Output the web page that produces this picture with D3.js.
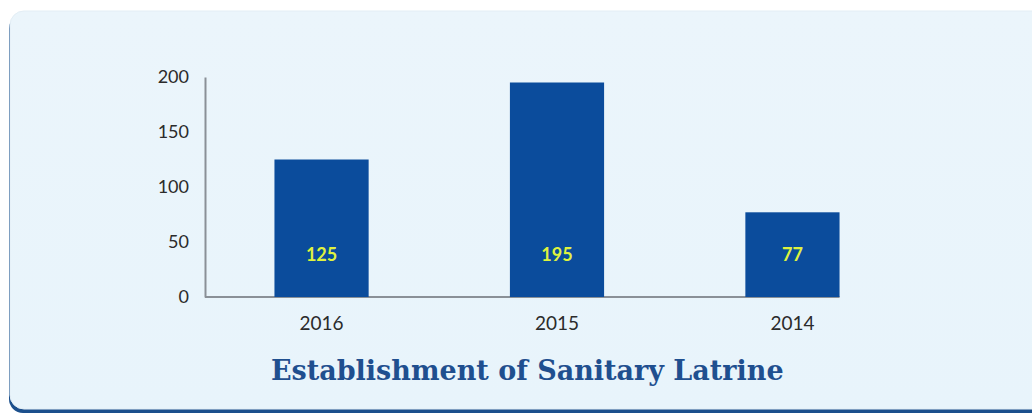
<!DOCTYPE html>
<html>
<head>
<meta charset="utf-8">
<script src="https://cdn.jsdelivr.net/npm/d3@7"></script>
<style>
  html, body { margin: 0; padding: 0; background: #ffffff; }
  svg { display: block; }
</style>
</head>
<body>
<div id="chart"></div>
<script>
// Sanitary latrines established per year
const years = ["2016", "2015", "2014"];
const latrines = [125, 195, 77];
const yTicks = [0, 50, 100, 150, 200];
const titleText = "Establishment of Sanitary Latrine";

const W = 1032, H = 416;
const svg = d3.select("#chart").append("svg")
  .attr("width", W).attr("height", H);

// Card background with a dark blue bottom edge
const defs = svg.append("defs");
const grad = defs.append("linearGradient").attr("id", "cardFill")
  .attr("x1", 0).attr("y1", 0).attr("x2", 0).attr("y2", 1);
grad.append("stop").attr("offset", "0%").attr("stop-color", "#ebf5fb");
grad.append("stop").attr("offset", "100%").attr("stop-color", "#e8f4fb");

svg.append("rect")
  .attr("x", 9).attr("y", 15).attr("width", 1040).attr("height", 398)
  .attr("rx", 14).attr("fill", "#1b4f8c");
svg.append("rect")
  .attr("x", 10).attr("y", 11).attr("width", 1040).attr("height", 398)
  .attr("rx", 14).attr("fill", "url(#cardFill)")
  .attr("stroke", "#e3eef5").attr("stroke-width", 1);

// Scales
const plot = { left: 205, right: 909, top: 77, bottom: 297 };
const x = d3.scaleBand()
  .domain(years)
  .range([plot.left, plot.right])
  .paddingInner(0.6)
  .paddingOuter(0.295);
const y = d3.scaleLinear()
  .domain([0, 200])
  .range([plot.bottom, plot.top]);

// Y axis: line and labels only
const yAxis = svg.append("g")
  .attr("transform", `translate(${plot.left},0)`)
  .call(d3.axisLeft(y).tickValues(yTicks).tickSize(0).tickPadding(16));
yAxis.select(".domain").attr("stroke", "#8a9097").attr("stroke-width", 2);
yAxis.selectAll("text")
  .attr("font-family", "Lato, 'Open Sans', sans-serif")
  .attr("font-size", 18)
  .attr("fill", "#2b2b2b");

// Baseline running under the bars
const lastBand = years[years.length - 1];
const barsEnd = x(lastBand) + x.bandwidth();
svg.append("line")
  .attr("x1", plot.left).attr("x2", barsEnd)
  .attr("y1", y(0)).attr("y2", y(0))
  .attr("stroke", "#8a9097").attr("stroke-width", 2);

// Bars
svg.append("g").selectAll("rect")
  .data(years)
  .join("rect")
  .attr("x", d => x(d))
  .attr("y", (d, i) => y(latrines[i]))
  .attr("width", x.bandwidth())
  .attr("height", (d, i) => y(0) - y(latrines[i]))
  .attr("fill", "#0b4c9c");

// Value labels near the foot of each bar
svg.append("g").selectAll("text")
  .data(years)
  .join("text")
  .attr("x", d => x(d) + x.bandwidth() / 2)
  .attr("y", y(0) - 42)
  .attr("dy", "0.35em")
  .attr("text-anchor", "middle")
  .attr("font-family", "Lato, 'Open Sans', sans-serif")
  .attr("font-weight", "bold")
  .attr("font-size", 18)
  .attr("fill", "#dff23f")
  .text((d, i) => latrines[i]);

// Category labels
const xAxis = svg.append("g")
  .attr("transform", `translate(0,${y(0)})`)
  .call(d3.axisBottom(x).tickSize(0).tickPadding(20));
xAxis.select(".domain").remove();
xAxis.selectAll("text")
  .attr("font-family", "Lato, 'Open Sans', sans-serif")
  .attr("font-size", 19)
  .attr("fill", "#2b2b2b");

// Title
svg.append("text")
  .attr("x", (plot.left + barsEnd) / 2 + 5)
  .attr("y", 380)
  .attr("text-anchor", "middle")
  .attr("font-family", "'DejaVu Serif', 'Liberation Serif', serif")
  .attr("font-weight", "bold")
  .attr("font-size", 27)
  .attr("fill", "#1f4f8f")
  .text(titleText);
</script>
</body>
</html>
